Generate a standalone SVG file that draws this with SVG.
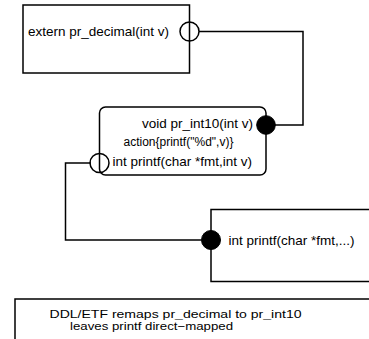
<svg xmlns="http://www.w3.org/2000/svg" width="369" height="339" viewBox="0 0 369 339">
<style>
.box{fill:#fff;stroke:#000;stroke-width:1.5}
.wire{fill:none;stroke:#000;stroke-width:1.5}
.open{fill:none;stroke:#000;stroke-width:1.5}
.fill{fill:#000;stroke:#000;stroke-width:1}
text{font-family:"Liberation Sans",Arial,sans-serif;font-size:13.5px;fill:#000}
.small{font-size:12px}
.note{font-size:11.5px}
</style>
<rect width="369" height="339" fill="#fff"/>
<g id="connectors">
<polyline class="wire" points="199,31.5 303,31.5 303,125 275,125"/>
<polyline class="wire" points="91,163 65.5,163 65.5,240 201,240"/>
</g>
<g id="pr_decimal">
<rect class="box" x="23" y="5" width="166.5" height="68"/>
<text x="28" y="36">extern pr_decimal(int v)</text>
<circle class="open" cx="189.5" cy="31.5" r="9.5"/>
</g>
<g id="pr_int10">
<rect class="box" x="99.5" y="107" width="166.5" height="68" rx="6"/>
<text x="253" y="128" text-anchor="end">void pr_int10(int v)</text>
<text class="small" x="123.5" y="146">action{printf("%d",v)}</text>
<text x="112.5" y="166">int printf(char *fmt,int v)</text>
<circle class="fill" cx="266" cy="125" r="9.3"/>
<circle class="open" cx="99.5" cy="163" r="9.5"/>
</g>
<g id="printf">
<rect class="box" x="211" y="209.5" width="180" height="72"/>
<text x="228.5" y="244.5">int printf(char *fmt,...)</text>
<circle class="fill" cx="211" cy="240" r="9.5"/>
</g>
<g id="note">
<rect class="box" x="15" y="299" width="380" height="60"/>
<text class="note" x="49.5" y="318" textLength="252" lengthAdjust="spacingAndGlyphs">DDL/ETF remaps pr_decimal to pr_int10</text>
<text class="note" x="70" y="329.5" textLength="163" lengthAdjust="spacingAndGlyphs">leaves printf direct−mapped</text>
</g>
</svg>
